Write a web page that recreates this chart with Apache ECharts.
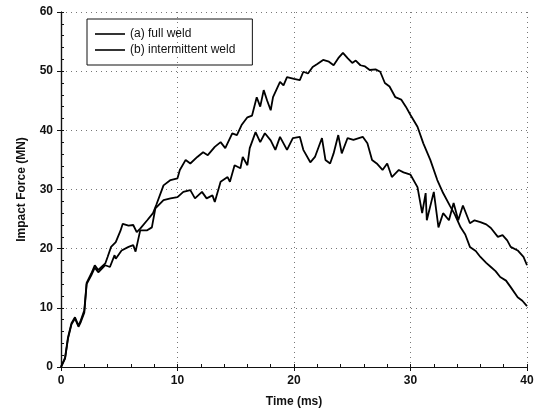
<!DOCTYPE html>
<html>
<head>
<meta charset="utf-8">
<script src="https://cdn.jsdelivr.net/npm/echarts@6/dist/echarts.min.js"></script>
<style>
html,body{margin:0;padding:0;background:#fff;}
#c{width:539px;height:417px;}
</style>
</head>
<body>
<div id="c"></div>
<script>
// [time (ms), impact force (MN)]
const fullWeld = [
 [0,0],[0.35,1.6],[0.6,5],[0.9,7.4],[1.2,8.4],[1.5,7],[1.7,7.9],[2.0,9.6],[2.2,14.2],[2.6,15.8],
 [2.9,17.2],[3.2,16.4],[3.8,17.5],[4.0,18.6],[4.3,20.3],[4.7,21.1],[5.1,23],[5.3,24.2],[5.8,23.9],
 [6.2,24],[6.5,22.8],[6.8,23.4],[7.4,24.8],[7.9,26],[8.2,27.5],[8.8,30.7],[9.4,31.6],[10.0,31.9],
 [10.2,33.3],[10.7,35],[11.1,34.4],[11.7,35.5],[12.2,36.3],[12.6,35.8],[13.2,37.2],[13.7,38],
 [14.1,37],[14.7,39.5],[15.1,39.2],[15.5,40.9],[16.0,42.2],[16.4,42.5],[16.8,45.6],[17.1,44],
 [17.4,46.8],[17.7,45],[18.0,43.4],[18.2,45.6],[18.8,48.2],[19.1,47.6],[19.4,49],[20.0,48.7],
 [20.5,48.5],[20.8,49.9],[21.2,49.6],[21.6,50.7],[22.0,51.2],[22.5,51.9],[23.0,51.6],[23.4,51],
 [23.8,52.2],[24.2,53.1],[24.6,52.2],[25.0,51.4],[25.3,51.8],[25.7,51],[26.1,50.8],[26.5,50.2],
 [27.0,50.3],[27.4,49.9],[27.8,48],[28.2,47.4],[28.7,45.6],[29.2,45.2],[29.6,44],[30.0,42.6],
 [30.6,40.6],[31.1,37.8],[31.7,35],[32.3,31.6],[32.8,29.4],[33.4,27.2],[33.8,25.8],[34.3,23.6],
 [34.7,22.4],[35.1,20.3],[35.6,19.6],[36.0,18.6],[36.5,17.6],[36.9,16.9],[37.3,16.2],[37.7,15.2],
 [38.2,14.6],[38.6,13.5],[39.2,11.8],[39.6,11.2],[40.0,10.3]
];
const intermittentWeld = [
 [0,0],[0.35,1.4],[0.6,4.8],[0.9,7.2],[1.2,8.2],[1.5,6.8],[1.7,7.6],[2.0,9.2],[2.2,14.0],[2.6,15.5],
 [2.9,16.8],[3.2,16],[3.8,17.2],[4.2,16.9],[4.6,18.9],[4.7,18.3],[5.2,19.7],[5.8,20.3],[6.2,20.6],
 [6.4,19.5],[6.8,23.1],[7.4,23.1],[7.8,23.6],[8.1,26.8],[8.8,28.2],[9.4,28.5],[10.0,28.7],
 [10.5,29.6],[11.1,29.9],[11.5,28.5],[12.1,29.6],[12.5,28.5],[13.0,29],[13.2,27.9],[13.7,31.3],
 [14.3,32.1],[14.5,31.3],[14.9,34.1],[15.4,33.6],[15.6,35.5],[16.0,34.1],[16.2,37],[16.7,39.7],
 [17.1,38],[17.5,39.5],[18.0,38.3],[18.4,36.7],[18.8,38.9],[19.4,36.7],[19.9,38.7],[20.5,38.9],
 [20.8,36.7],[21.4,34.6],[21.8,35.5],[22.4,38.7],[22.7,35],[23.1,34.4],[23.4,36.1],[23.8,39.2],
 [24.1,36.1],[24.6,38.7],[25.1,38.4],[25.9,38.9],[26.3,37.8],[26.7,35],[27.1,34.4],[27.6,33.3],
 [28.0,34.4],[28.4,32.1],[29.0,33.3],[29.4,32.9],[30.0,32.5],[30.6,30.4],[31.0,26],[31.3,29.4],
 [31.4,24.8],[32.0,29.6],[32.4,23.6],[32.8,26],[33.3,24.8],[33.7,27.7],[34.1,24.8],[34.5,27.3],
 [35.1,24.3],[35.5,24.8],[36.0,24.5],[36.5,24.1],[36.9,23.5],[37.5,22],[37.9,22.3],[38.3,21.4],
 [38.6,20.3],[39.2,19.7],[39.7,18.6],[40.0,17.2]
];
const seriesNames = ['(a) full weld', '(b) intermittent weld'];
const xTicks = [0, 10, 20, 30, 40];
const yTicks = [0, 10, 20, 30, 40, 50, 60];
const majorStep = 10;
const minorStep = 2;

const chart = echarts.init(document.getElementById('c'), null, {renderer: 'canvas'});
const font = 'Liberation Sans, Arial, sans-serif';
const lbl = {fontFamily: font, fontSize: 12, fontWeight: 'bold', color: '#111'};
const nameStyle = {fontFamily: font, fontSize: 12, fontWeight: 'bold', color: '#111'};
const fmt = v => (Math.abs(v % majorStep) < 1e-9 ? String(v) : '');
const grid = {type: [1, 4], color: '#777', width: 1};

function mainAxis(pos, ticks, name, gap, rot) {
  return {
    type: 'value', position: pos, min: ticks[0], max: ticks[ticks.length - 1], interval: minorStep,
    name: name, nameLocation: 'middle', nameGap: gap, nameRotate: rot, nameTextStyle: nameStyle,
    axisLine: {show: true, lineStyle: {color: '#111', width: 1.2}},
    axisTick: {show: true, inside: true, length: 3, lineStyle: {color: '#111'}},
    axisLabel: Object.assign({margin: 8, formatter: fmt, interval: 0}, lbl),
    splitLine: {show: false}
  };
}
function sideAxis(pos, ticks) {
  return {
    type: 'value', position: pos, min: ticks[0], max: ticks[ticks.length - 1], interval: majorStep,
    axisLine: {show: true, lineStyle: {color: '#111', width: 1.2}},
    axisTick: {show: true, inside: true, length: 4, lineStyle: {color: '#111'}},
    axisLabel: {show: false},
    splitLine: {show: true, lineStyle: grid}
  };
}
chart.setOption({
  animation: false,
  backgroundColor: '#fff',
  grid: {left: 61, right: 12, top: 12, bottom: 50},
  xAxis: [mainAxis('bottom', xTicks, 'Time (ms)', 29, 0), sideAxis('top', xTicks)],
  yAxis: [mainAxis('left', yTicks, 'Impact Force (MN)', 33, 90), sideAxis('right', yTicks)],
  legend: {
    left: 87, top: 19, orient: 'vertical',
    data: seriesNames,
    icon: 'path://M0,0L30,0L30,1.6L0,1.6Z',
    borderColor: '#111', borderWidth: 1, borderRadius: 0,
    padding: [9, 17, 9, 8], itemGap: 4, itemWidth: 30, itemHeight: 2,
    textStyle: {fontFamily: font, fontSize: 12, color: '#111'}
  },
  series: [
    {name: seriesNames[0], type: 'line', data: fullWeld, symbol: 'none',
     lineStyle: {color: '#000', width: 1.8}, itemStyle: {color: '#000'}},
    {name: seriesNames[1], type: 'line', data: intermittentWeld, symbol: 'none',
     lineStyle: {color: '#000', width: 1.8}, itemStyle: {color: '#000'}}
  ]
});
</script>
</body>
</html>
